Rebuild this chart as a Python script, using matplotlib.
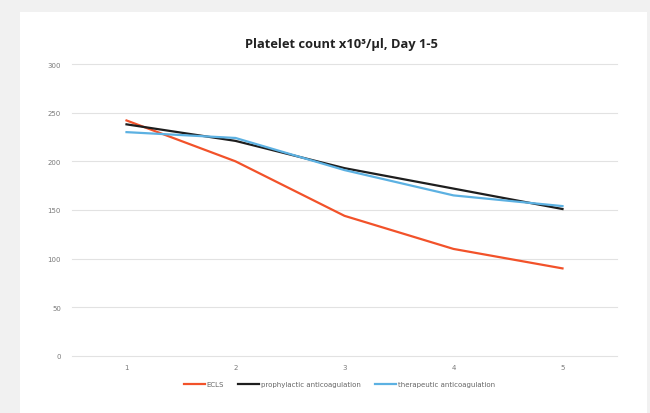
import matplotlib
matplotlib.use("Agg")
import matplotlib.pyplot as plt
from matplotlib.patches import Rectangle

# platelet counts (x10^3/ul) per day
days = [1, 2, 3, 4, 5]
ecls = [242, 200, 144, 110, 90]
prophylactic = [238, 221, 193, 172, 151]
therapeutic = [230, 224, 191, 165, 154]
yticks = [0, 50, 100, 150, 200, 250, 300]

fig = plt.figure(figsize=(6.5, 4.14), dpi=100)
fig.patch.set_facecolor("#f1f1f1")
# white chart area on the grey frame
fig.patches.append(Rectangle((20 / 650, 0), 627 / 650, 401 / 414,
                             transform=fig.transFigure, facecolor="white",
                             edgecolor="none", zorder=-10))

ax = fig.add_axes([72 / 650, 57 / 414, 545 / 650, 292 / 414])
ax.set_zorder(5)
ax.set_facecolor("none")

ax.plot(days, ecls, color="#f2522a", lw=1.6, label="ECLS", zorder=3)
ax.plot(days, prophylactic, color="#1e1e1e", lw=1.6,
        label="prophylactic anticoagulation", zorder=3)
ax.plot(days, therapeutic, color="#5cb1e2", lw=1.6,
        label="therapeutic anticoagulation", zorder=4)

ax.set_xlim(0.5, 5.5)
ax.set_ylim(0, 300)
ax.set_xticks(days)
ax.set_yticks(yticks)
ax.tick_params(length=0, labelsize=5, labelcolor="#7a7a7a", pad=8)
ax.tick_params(axis="x", pad=6)
ax.grid(axis="y", color="#e2e2e2", lw=0.8)
for gl in ax.get_ygridlines():
    gl.set_clip_on(False)
ax.set_axisbelow(True)
for s in ax.spines.values():
    s.set_visible(False)

fig.text(0.525, 0.893, "Platelet count x10\u00b3/\u00b5l, Day 1-5",
         ha="center", va="center", fontsize=9.3, fontweight="bold",
         family="Open Sans", color="#222222", zorder=6)

leg = fig.legend(loc="center", bbox_to_anchor=(0.522, 0.07), ncol=3,
                 frameon=False, fontsize=5, handlelength=3.0,
                 columnspacing=2.0, handletextpad=0.3, labelcolor="#666666")
leg.set_zorder(6)

fig.savefig("out.png", dpi=100)
